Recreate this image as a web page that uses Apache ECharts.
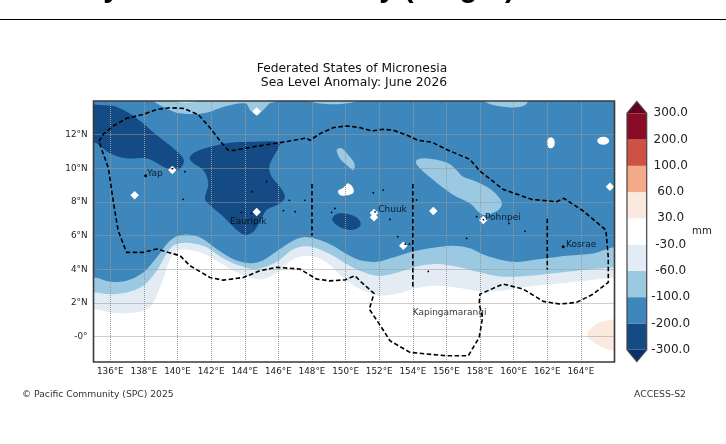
<!DOCTYPE html>
<html><head><meta charset="utf-8">
<style>html,body{margin:0;padding:0;background:#fff}#c{width:726px;height:444px;filter:blur(0.3px)}</style>
<script src="https://cdn.jsdelivr.net/npm/echarts@6/dist/echarts.min.js"></script>
</head><body><div id="c"></div>
<script>
const lonTicks=[136,138,140,142,144,146,148,150,152,154,156,158,160,162,164];
const latTicks=[0,2,4,6,8,10,12];
const cbLabels=['-300.0','-200.0','-100.0','-60.0','-30.0','30.0','60.0','100.0','200.0','300.0'];
const cbColors=['#144b85','#3d87bd','#9bc9e1','#e3ecf4','#ffffff','#fae9df','#f4aa89','#ce5244','#890b26'];
const cbUnder='#09306b', cbOver='#67001f';

const band60=[[135,1.64],[135.98,1.44],[136.97,1.40],[137.96,1.54],[138.56,2.04],[139.15,3.42],[139.55,4.6],[140.15,5.17],[141.34,5.01],[142.33,4.51],[143.32,3.92],[144.31,3.52],[145.10,3.42],[145.9,3.8],[146.89,4.6],[147.88,4.8],[148.87,4.41],[149.86,3.52],[150.85,2.83],[152.04,2.45],[153.23,2.6],[154.22,2.89],[155.41,3.03],[156.8,2.89],[157.99,2.7],[159.38,2.75],[160.77,2.97],[162.75,3.17],[164.73,3.38],[166,3.52]];
const band100=[[135,2.63],[135.98,2.53],[136.97,2.63],[137.96,3.03],[138.76,3.92],[139.45,5.1],[139.95,5.50],[140.74,5.56],[141.73,5.31],[142.72,4.65],[143.71,4.22],[144.71,4.02],[145.9,4.45],[146.89,5.2],[147.88,5.36],[149.07,4.91],[150.06,4.32],[150.85,3.92],[151.85,3.62],[152.84,3.75],[154.22,4.16],[155.41,4.32],[156.8,4.12],[157.99,3.82],[159.18,3.58],[160.37,3.58],[161.96,3.72],[163.74,3.92],[166,4.12]];
const band200=[[135,3.52],[135.98,3.27],[136.97,3.33],[137.96,3.82],[138.76,4.71],[139.55,5.70],[140.34,6.06],[141.34,5.90],[142.33,5.21],[143.32,4.61],[144.31,4.37],[145.10,4.55],[146.09,5.21],[147.08,5.80],[147.88,5.90],[149.07,5.50],[150.06,4.91],[150.85,4.55],[151.85,4.45],[152.84,4.71],[154.03,5.07],[155.41,5.31],[156.41,5.40],[157.4,5.25],[158.39,4.81],[159.97,4.45],[161.56,4.61],[163.15,4.81],[164.73,4.95],[166,5.31]];
const topA=[[138.2,14.6],[138.56,14],[139.35,13.56],[140.15,13.27],[141.53,13.27],[142.92,13.70],[144.01,13.86],[144.31,13.47],[144.71,13.17],[145.10,13.47],[145.5,13.86],[145.9,14],[146.3,14.6]];
const topLight=[[139.7,14.2],[139.9,13.98],[140.5,13.9],[141.1,13.98],[141.35,14.2]];
const topB=[[158,14.4],[158.23,14],[158.79,13.76],[159.78,13.62],[160.57,13.70],[160.87,14],[161.1,14.4]];
const topC=[[147.4,14.3],[147.68,14],[149.27,13.8],[150.8,14],[151,14.3]];
const patch150=[[149.47,11.09],[149.76,11.19],[150.16,10.79],[150.52,10.30],[150.46,9.90],[150.06,10.2],[149.66,10.59]];
const patchPohnpei=[[154.18,10.40],[154.52,10.59],[155.32,10.53],[156.11,10.30],[156.6,9.90],[157,9.50],[157.79,9.21],[158.69,8.71],[159.28,8.02],[159.08,7.52],[158.29,7.23],[157.89,7.43],[157.4,7.92],[156.41,8.42],[155.22,9.31],[154.42,10.0]];
const deepWest=[[134,13.6],[135.78,13.74],[136.58,13.56],[137.57,12.97],[138.76,11.98],[139.75,11.19],[140.34,10.59],[140.25,10.10],[139.75,9.80],[139.15,10.10],[138.16,10.59],[136.97,10.59],[135.98,10.89],[135.19,11.49],[134.5,11.7]];
const deepCentre=[[140.74,10.69],[141.34,11.09],[142.92,11.49],[144.51,11.58],[145.9,11.58],[146.05,11.29],[145.7,10.69],[145.46,10.10],[145.6,9.50],[146.09,8.91],[146.39,8.32],[146.09,7.92],[145.3,7.52],[144.9,6.83],[144.51,6.24],[144.01,6.06],[143.52,6.34],[142.72,7.13],[141.93,7.82],[141.63,8.22],[141.83,9.11],[141.53,9.90],[140.94,10.30]];
const deepSmall=[[149.2,6.95],[149.5,7.3],[150.1,7.3],[150.7,7.05],[150.9,6.65],[150.6,6.4],[150.2,6.35],[149.6,6.55]];
const peach=[[167,1.2],[166,1.05],[165.13,0.85],[164.54,0.45],[164.38,0.12],[164.63,-0.24],[165.33,-0.64],[166,-0.83],[167,-1]];
const blob=[[149.56,8.67],[149.86,8.85],[150.16,9.11],[150.46,8.81],[150.42,8.51],[149.96,8.38],[149.66,8.42]];
const holes=[[144.71,13.37],[137.45,8.40],[144.71,7.41],[139.69,9.90],[155.22,7.47],[165.73,8.91],[151.69,7.35],[151.69,7.1],[158.19,6.93],[153.43,5.40]];
const tallHoles=[[162.21,11.52]];
const wideHoles=[[165.33,11.64]];
const atolls=[[140.44,9.8],[140.34,8.16],[145.3,9.21],[144.45,8.61],[143.8,7.39],[144.4,7.33],[146.65,8.1],[147.58,8.1],[146.3,7.49],[147,7.43],[149.17,7.39],[149.37,7.62],[151.65,8.55],[152.24,8.71],[154.22,8.12],[152.64,6.97],[157.8,7.13],[159.72,6.73],[160.67,6.26],[157.2,5.84],[153.1,5.94],[154.92,3.88],[153.8,5.5],[139.69,9.98],[151.75,7.42],[158.2,6.95],[153.55,5.5]];
const placeDots=[[138.1,9.56],[162.95,5.35]];
const places=[[138.2,9.66,'Yap'],[143.12,6.83,'Eauripik'],[151.94,7.56,'Chuuk'],[158.29,7.05,'Pohnpei'],[163.11,5.46,'Kosrae'],[153.99,1.42,'Kapingamarangi']];
const eez=[[135.32,11.6],[135.59,12.03],[136.19,12.53],[136.97,12.97],[137.96,13.2],[138.76,13.5],[139.55,13.6],[140.34,13.56],[141.23,13.2],[141.93,12.41],[142.62,11.52],[143.02,11.08],[143.32,11.06],[144.51,11.28],[146.29,11.56],[147.68,11.8],[147.88,11.66],[148.47,12.06],[149.27,12.42],[150.06,12.52],[150.85,12.42],[151.55,12.22],[152.24,12.32],[152.84,12.26],[153.63,11.98],[154.32,11.66],[155.12,11.56],[156.01,11.12],[157.4,10.53],[157.99,9.84],[159.38,8.75],[161.06,8.16],[162.55,8.02],[162.99,8.22],[164.14,7.47],[165.49,6.33],[165.63,4.71],[165.63,3.23],[164.73,2.53],[163.74,2.04],[162.75,1.94],[161.76,2.1],[160.57,2.83],[159.38,3.13],[157.99,2.53],[157.95,1.94],[158.15,1.15],[157.95,-0.04],[157.3,-1.13],[156.01,-1.13],[153.83,-0.93],[152.64,-0.24],[152.14,0.55],[151.41,1.64],[151.69,2.57],[150.85,3.32],[150.56,3.62],[149.97,3.38],[149.07,3.32],[148.28,3.42],[147.28,4.02],[145.9,4.12],[144.9,3.92],[143.92,3.52],[142.72,3.36],[141.93,3.52],[140.74,4.22],[140.15,4.81],[138.76,5.21],[137.96,5.01],[136.97,5.01],[136.47,6.29],[136.19,7.94],[135.89,10.0],[135.32,11.6]];
const stateLines=[[[148,9.07],[148,6.0]],[[154,9.07],[154,2.93]],[[162,7.0],[162,4.0]]];

const FONT='"DejaVu Sans"';
// rounds a closed outline for drawing only; it passes through every read point
function rounded(p){
  const out=[],n=p.length;
  for(let i=0;i<n;i++){
    const a=p[(i-1+n)%n],b=p[i],c=p[(i+1)%n],d=p[(i+2)%n];
    for(let k=0;k<8;k++){
      const t=k/8,t2=t*t,t3=t2*t;
      out.push([0,1].map(j=>0.5*(2*b[j]+(c[j]-a[j])*t+(2*a[j]-5*b[j]+4*c[j]-d[j])*t2+(3*b[j]-a[j]-3*c[j]+d[j])*t3)));
    }
  }
  return out;
}
function patch(points,color,z){
  return {type:'custom',coordinateSystem:'cartesian2d',xAxisIndex:0,yAxisIndex:0,clip:true,z,silent:true,data:points,
    renderItem(params,api){
      if(params.dataIndex!==0) return null;
      return {type:'polygon',shape:{points:rounded(points.map(p=>api.coord(p)))},style:{fill:color,stroke:null}};
    }};
}
function north(line){return [[133,line[0][1]],...line,[168,line[line.length-1][1]],[175,30],[126,30]];}
function holesSeries(data,size,symbol){
  return {type:'scatter',xAxisIndex:0,yAxisIndex:0,data,symbol,symbolSize:size,z:4,silent:true,itemStyle:{color:'#fff',opacity:1}};
}
const cbRange=[...cbColors.keys()];
const series=[
  patch(north(band60),cbColors[3],1),
  patch(north(band100),cbColors[2],1.1),
  patch(north(band200),cbColors[1],1.2),
  patch(topA,cbColors[2],1.3),
  patch(topLight,cbColors[3],1.4),
  patch(topB,cbColors[2],1.3),
  patch(topC,cbColors[2],1.3),
  patch(patch150,cbColors[2],1.3),
  patch(patchPohnpei,cbColors[2],1.3),
  patch(deepWest,cbColors[0],1.5),
  patch(deepCentre,cbColors[0],1.5),
  patch(deepSmall,cbColors[0],1.5),
  patch(peach,cbColors[5],1.5),
  patch(blob,'#ffffff',4),
  holesSeries(holes,8.5,'diamond'),
  holesSeries(tallHoles,[8,11],'circle'),
  holesSeries(wideHoles,[12,8],'circle'),
  {type:'scatter',xAxisIndex:0,yAxisIndex:0,data:atolls,symbolSize:1.8,z:7,silent:true,itemStyle:{color:'#000',opacity:1}},
  {type:'scatter',xAxisIndex:0,yAxisIndex:0,data:placeDots,symbolSize:3,z:7,silent:true,itemStyle:{color:'#000',opacity:1}},
  {type:'scatter',xAxisIndex:0,yAxisIndex:0,data:places,symbolSize:0,z:8,silent:true,
    label:{show:true,position:'right',distance:0,formatter:p=>p.data[2],fontFamily:FONT,fontSize:9,color:'#000'}},
  {type:'line',xAxisIndex:0,yAxisIndex:0,data:eez,showSymbol:false,silent:true,z:6,clip:false,
    lineStyle:{color:'#000',width:1.6,type:[4.5,2.5]}},
  ...stateLines.map(d=>({type:'line',xAxisIndex:0,yAxisIndex:0,data:d,showSymbol:false,silent:true,z:6,
    lineStyle:{color:'#000',width:1.6,type:[4.5,2.5]}})),
  {type:'custom',xAxisIndex:1,yAxisIndex:1,z:3,silent:true,clip:false,data:cbRange.map(i=>[i,i+1]),
    renderItem(params,api){
      const a=api.coord([0,api.value(0)]),b=api.coord([1,api.value(1)]);
      return {type:'rect',shape:{x:a[0],y:b[1],width:b[0]-a[0],height:a[1]-b[1]},style:{fill:cbColors[params.dataIndex],stroke:null}};
    }},
  {type:'custom',xAxisIndex:1,yAxisIndex:1,z:3,silent:true,clip:false,data:[[0,-0.45],[9,9.45]],
    renderItem(params,api){
      const l=api.coord([0,api.value(0)]),r=api.coord([1,api.value(0)]),t=api.coord([0.5,api.value(1)]);
      return {type:'polygon',shape:{points:[l,r,t]},style:{fill:params.dataIndex===0?cbUnder:cbOver,stroke:null}};
    }},
  {type:'custom',xAxisIndex:1,yAxisIndex:1,z:4,silent:true,clip:false,data:[[0,0]],
    renderItem(params,api){
      const pts=[[0,0],[0,9],[0.5,9.45],[1,9],[1,0],[0.5,-0.45]].map(p=>api.coord(p));
      return {type:'polygon',shape:{points:pts},style:{fill:'none',stroke:'#444',lineWidth:1.2}};
    }}
];
const chart=echarts.init(document.getElementById('c'),null,{renderer:'canvas'});
chart.setOption({
  animation:false,backgroundColor:'#fff',
  title:{text:'Federated States of Micronesia\n Sea Level Anomaly: June 2026',left:347,top:57,textAlign:'center',
    textStyle:{fontFamily:FONT,fontSize:12.3,fontWeight:'normal',color:'#111',lineHeight:14}},
  grid:[
    {left:93.5,top:101,width:521,height:261,show:true,z:10,backgroundColor:'transparent',borderColor:'#3a3a3a',borderWidth:1.6,containLabel:false},
    {left:627,top:113.3,width:19.7,height:236.4,containLabel:false}
  ],
  xAxis:[
    {type:'value',gridIndex:0,min:135,max:166,splitNumber:15,z:5,
     axisLine:{show:false},axisTick:{show:false},
     axisLabel:{margin:5,fontFamily:FONT,fontSize:8.8,color:'#222',hideOverlap:false,showMinLabel:false,showMaxLabel:false,
       formatter:v=>lonTicks.includes(v)?v+'°E':''},
     splitLine:{show:true,showMinLine:false,showMaxLine:false,lineStyle:{color:'#9a9a9a',width:1,type:[1,1]}}},
    {type:'value',gridIndex:1,min:0,max:1,show:false}
  ],
  yAxis:[
    {type:'value',gridIndex:0,min:-1.5,max:14,splitNumber:8,z:5,
     axisLine:{show:false},axisTick:{show:false},
     axisLabel:{margin:6,fontFamily:FONT,fontSize:8.8,color:'#222',showMinLabel:false,showMaxLabel:false,
       formatter:v=>latTicks.includes(v)?(v===0?'-0°':v+'°N'):''},
     splitLine:{show:true,showMinLine:false,showMaxLine:false,lineStyle:{color:'#9a9a9a',width:1,type:[1,1]}}},
    {type:'value',gridIndex:1,min:0,max:9,interval:1,position:'right',
     axisLine:{show:false},axisTick:{show:false},splitLine:{show:false},
     axisLabel:{margin:24,align:'center',fontFamily:FONT,fontSize:12,color:'#222',formatter:v=>cbLabels[v]}}
  ],
  graphic:[
    {type:'line',shape:{x1:0,y1:19.5,x2:726,y2:19.5},style:{stroke:'#000',lineWidth:1}},
    {type:'text',x:7,y:-26,style:{text:'Monthly Sea Level Anomaly (Height)',fontFamily:'"Liberation Sans"',fontWeight:'bold',fontSize:29.4,fill:'#000'}},
    {type:'text',x:692,y:226,style:{text:'mm',fontFamily:FONT,fontSize:10.2,fill:'#222'}},
    {type:'text',x:22,y:390,style:{text:'© Pacific Community (SPC) 2025',fontFamily:FONT,fontSize:9.2,fill:'#333'}},
    {type:'text',x:634,y:390,style:{text:'ACCESS-S2',fontFamily:FONT,fontSize:9.3,fill:'#333'}}
  ],
  series
});
</script></body></html>
